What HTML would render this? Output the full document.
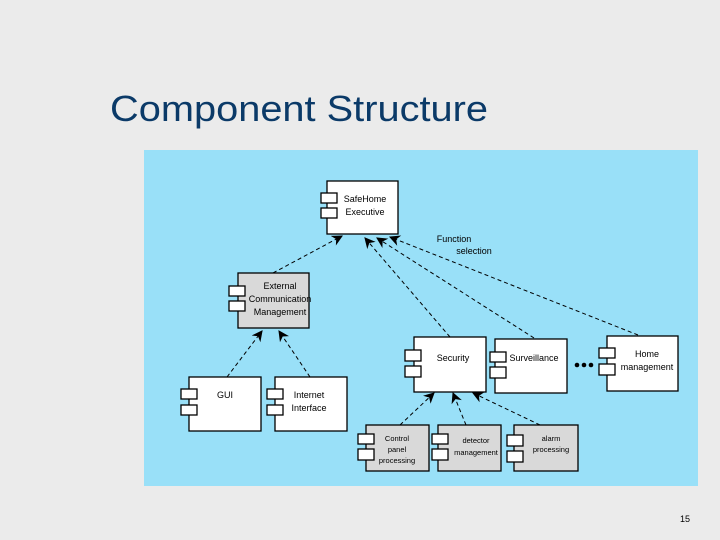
<!DOCTYPE html>
<html><head><meta charset="utf-8"><style>
html,body{margin:0;padding:0;background:#ebebeb;width:720px;height:540px;overflow:hidden}
svg{display:block}
text{font-family:"Liberation Sans",sans-serif}
</style></head><body>
<svg width="720" height="540" viewBox="0 0 720 540" xmlns="http://www.w3.org/2000/svg">
<defs>
<marker id="a" viewBox="0 0 10 10" refX="9" refY="5" markerWidth="12" markerHeight="11" orient="auto" markerUnits="userSpaceOnUse">
<path d="M0,0 L10,5 L0,10 L3,5 z" fill="#000"/></marker>
</defs>
<rect width="720" height="540" fill="#ebebeb"/>
<text x="110" y="121" font-size="36" fill="#0b3a68" textLength="378" lengthAdjust="spacingAndGlyphs">Component Structure</text>
<rect x="144" y="150" width="554" height="336" fill="#99e0f8"/>
<g stroke="#000" stroke-width="1" stroke-dasharray="4,3" fill="none" marker-end="url(#a)">
<line x1="273" y1="273" x2="342" y2="236"/>
<line x1="450" y1="337" x2="365" y2="238"/>
<line x1="534" y1="338" x2="377" y2="238"/>
<line x1="638" y1="335" x2="390" y2="237"/>
<line x1="227" y1="377" x2="262" y2="331"/>
<line x1="310" y1="377" x2="279" y2="331"/>
<line x1="400" y1="425" x2="434" y2="393"/>
<line x1="466" y1="425" x2="453" y2="393"/>
<line x1="540" y1="425" x2="473" y2="393"/>
</g>
<g stroke="#000" stroke-width="1.3">
<rect x="327" y="181" width="71" height="53" fill="#fff"/>
<rect x="321" y="193" width="16" height="10" fill="#fff"/><rect x="321" y="208" width="16" height="10" fill="#fff"/>
<rect x="238" y="273" width="71" height="55" fill="#d9d9d9"/>
<rect x="229" y="286" width="16" height="10" fill="#fff"/><rect x="229" y="301" width="16" height="10" fill="#fff"/>
<rect x="189" y="377" width="72" height="54" fill="#fff"/>
<rect x="181" y="389" width="16" height="10" fill="#fff"/><rect x="181" y="405" width="16" height="10" fill="#fff"/>
<rect x="275" y="377" width="72" height="54" fill="#fff"/>
<rect x="267" y="389" width="16" height="10" fill="#fff"/><rect x="267" y="405" width="16" height="10" fill="#fff"/>
<rect x="414" y="337" width="72" height="55" fill="#fff"/>
<rect x="405" y="350" width="16" height="11" fill="#fff"/><rect x="405" y="366" width="16" height="11" fill="#fff"/>
<rect x="495" y="339" width="72" height="54" fill="#fff"/>
<rect x="490" y="352" width="16" height="10" fill="#fff"/><rect x="490" y="367" width="16" height="11" fill="#fff"/>
<rect x="607" y="336" width="71" height="55" fill="#fff"/>
<rect x="599" y="348" width="16" height="10" fill="#fff"/><rect x="599" y="364" width="16" height="11" fill="#fff"/>
<rect x="366" y="425" width="63" height="46" fill="#d9d9d9"/>
<rect x="358" y="434" width="16" height="10" fill="#fff"/><rect x="358" y="449" width="16" height="11" fill="#fff"/>
<rect x="438" y="425" width="63" height="46" fill="#d9d9d9"/>
<rect x="432" y="434" width="16" height="10" fill="#fff"/><rect x="432" y="449" width="16" height="11" fill="#fff"/>
<rect x="514" y="425" width="64" height="46" fill="#d9d9d9"/>
<rect x="507" y="435" width="16" height="11" fill="#fff"/><rect x="507" y="451" width="16" height="11" fill="#fff"/>
</g>
<g font-size="9" fill="#000" text-anchor="middle">
<text x="365" y="202">SafeHome</text><text x="365" y="215">Executive</text>
<text x="280" y="289">External</text><text x="280" y="302">Communication</text><text x="280" y="315">Management</text>
<text x="225" y="398">GUI</text>
<text x="309" y="398">Internet</text><text x="309" y="411">Interface</text>
<text x="453" y="361">Security</text>
<text x="534" y="361">Surveillance</text>
<text x="647" y="357">Home</text><text x="647" y="370">management</text>
<text x="454" y="242">Function</text>
<text x="474" y="254">selection</text>
</g>
<g font-size="7.5" fill="#000" text-anchor="middle">
<text x="397" y="441">Control</text><text x="397" y="452">panel</text><text x="397" y="463">processing</text>
<text x="476" y="443">detector</text><text x="476" y="455">management</text>
<text x="551" y="441">alarm</text><text x="551" y="452">processing</text>
</g>
<g fill="#000"><circle cx="577" cy="365" r="2.3"/><circle cx="584" cy="365" r="2.3"/><circle cx="591" cy="365" r="2.3"/></g>
<text x="680" y="522" font-size="9" fill="#000">15</text>
</svg>
</body></html>
